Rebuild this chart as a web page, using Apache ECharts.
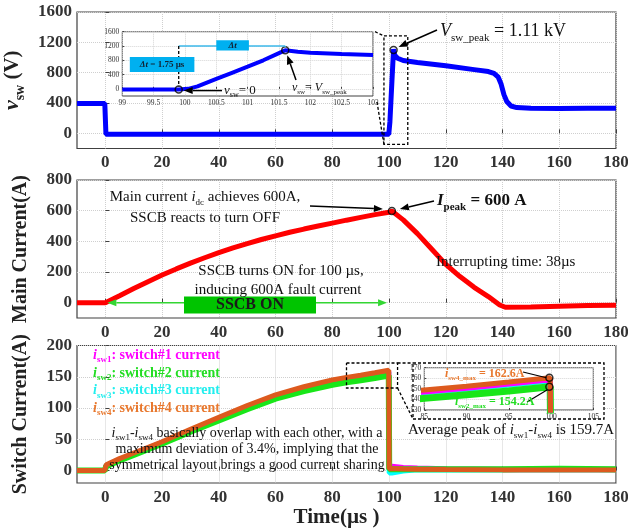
<!DOCTYPE html>
<html>
<head>
<meta charset="utf-8">
<script src="https://cdn.jsdelivr.net/npm/echarts@6/dist/echarts.min.js"></script>
<style>
html, body { margin: 0; padding: 0; background: #fff; }
#chart { width: 628px; height: 529px; }
</style>
</head>
<body>
<div id="chart"></div>
<script>
// tick labels
var xTicks = [0, 20, 40, 60, 80, 100, 120, 140, 160, 180];
var vswTicks = [0, 400, 800, 1200, 1600];
var mainTicks = [0, 200, 400, 600, 800];
var swTicks = [0, 50, 100, 150, 200];

// switch voltage v_sw (V)
var vswTime = [-10, -0.2, 0.2, 20, 50, 80, 99.9, 100.3, 100.6, 101, 101.3, 101.6, 102, 103, 105, 110, 120, 130, 135, 137, 138.5, 139.5, 140.5, 141.5, 143, 145, 150, 160, 170, 180];
var vswValue = [395, 395, -12, -12, -12, -12, -12, 150, 380, 680, 900, 1110, 1030, 990, 960, 935, 890, 840, 815, 790, 740, 650, 510, 420, 360, 340, 330, 328, 330, 332];

// zoomed v_sw around turn-off (inset)
var insTime = [99, 99.5, 99.9, 100.05, 100.2, 100.5, 100.75, 101, 101.25, 101.5, 101.6, 101.8, 102, 102.5, 103];
var insValue = [-20, -20, -20, 0, 70, 280, 450, 620, 800, 1000, 1080, 1040, 1010, 975, 950];

// main current i_dc (A)
var mainTime = [-10, 0, 5, 10, 15, 20, 25, 30, 35, 40, 45, 50, 55, 60, 65, 70, 75, 80, 85, 90, 95, 100, 101, 105, 110, 115, 120, 125, 130, 135, 139, 141, 150, 160, 170, 180];
var mainValue = [0, 0, 45, 92, 137, 180, 220, 258, 293, 326, 357, 385, 412, 436, 459, 480, 500, 519, 538, 556, 574, 590, 598, 540, 450, 350, 250, 170, 100, 40, -15, -30, -28, -23, -19, -17];

// switch currents (A)
var swTime = [-10, -0.2, 0.3, 5, 10, 20, 30, 40, 50, 60, 70, 80, 85, 90, 95, 99.9, 100.05, 101, 105, 110, 120, 140, 160, 180];
var isw1 = [0, 0, 8, 18, 27, 45, 64, 83, 102, 119, 132, 143, 147, 150.5, 154.5, 158.5, 7, 7, 5, 4, 3, 2, 2, 2];
var isw2 = [0, 0, 7, 16, 25, 43, 62, 80, 98, 115, 127, 137, 141, 144.5, 148, 152, 2, 2, 2, 2, 2, 2, 3, 2];
var isw3 = [0, 0, 8, 17, 26, 44, 63, 82, 101, 118, 131, 142, 146, 149.5, 153.5, 157.5, -4, -4, -1, 1, 1, 1, 1, 1];
var isw4 = [0, 0, 9, 19, 28, 46, 66, 85, 104, 121, 134, 145, 149, 152.5, 156.5, 160.5, 3, 3, 2.5, 2, 1.5, 1, 1, 1];

// marked points
var vswPeakMain = [[101.6, 1100]];
var vswInsMarks = [[99.9, -20], [101.6, 1080]];
var mainPeak = [[101, 598]];
var swMaxMarks = [[99.8, 160.5], [99.8, 152]];

var SERIF = 'Liberation Serif';
var zip = function (t, v) { return t.map(function (x, i) { return [x, v[i]]; }); };
var plain = function (v) { return String(v); };

var chart = echarts.init(document.getElementById('chart'));

function xAx(g, show) {
    return {
        type: 'value', gridIndex: g, min: -10, max: 180,
        axisLine: { show: false },
        axisTick: { inside: true, length: 4, customValues: xTicks, lineStyle: { color: '#404040' } },
        axisLabel: { show: show !== false, customValues: xTicks, formatter: plain, fontFamily: SERIF, fontWeight: 'bold', fontSize: 17, color: '#333', margin: 6 },
        splitLine: { show: true, lineStyle: { color: '#cfcfcf', type: 'dotted' } }
    };
}
function yAx(g, min, max, ticks, name, rich) {
    return {
        type: 'value', gridIndex: g, min: min, max: max,
        axisLine: { show: false },
        axisTick: { inside: true, length: 4, customValues: ticks, lineStyle: { color: '#404040' } },
        axisLabel: { customValues: ticks, formatter: plain, fontFamily: SERIF, fontWeight: 'bold', fontSize: 17, color: '#333', margin: 5 },
        splitLine: { show: true, lineStyle: { color: '#cfcfcf', type: 'dotted' } },
        name: name, nameLocation: 'middle', nameRotate: 90, nameGap: 46,
        nameTextStyle: { fontFamily: SERIF, fontWeight: 'bold', fontSize: 20, color: '#222', rich: rich }
    };
}
function insAx(g, type, min, max, interval) {
    return {
        type: 'value', gridIndex: g, min: min, max: max, interval: interval, z: 6,
        axisLine: { show: false },
        axisTick: { inside: true, length: 2, lineStyle: { color: '#404040' } },
        axisLabel: { formatter: plain, fontFamily: SERIF, fontSize: 7.5, color: '#333', margin: 3 },
        splitLine: { show: true, lineStyle: { color: '#d5d5d5', type: 'dotted' } }
    };
}
var circleStyle = { color: 'rgba(0,0,0,0)', borderColor: '#000', borderWidth: 1.5 };

var xAxes = [xAx(0), xAx(1), xAx(2)];
xAxes[2].name = 'Time(µs )';
xAxes[2].nameLocation = 'middle';
xAxes[2].nameGap = 23;
xAxes[2].nameTextStyle = { fontFamily: SERIF, fontWeight: 'bold', fontSize: 21, color: '#222', padding: [0, 20, 0, 0] };
xAxes.push(insAx(3, 'x', 99, 103, 0.5));
xAxes.push(insAx(4, 'x', 85, 105, 5));

var vRich = {
    i: { fontFamily: SERIF, fontWeight: 'bold', fontStyle: 'italic', fontSize: 22, color: '#222' },
    s: { fontFamily: SERIF, fontWeight: 'bold', fontSize: 14, color: '#222', verticalAlign: 'bottom', lineHeight: 30 },
    n: { fontFamily: SERIF, fontWeight: 'bold', fontSize: 21, color: '#222' }
};
var yAxes = [
    yAx(0, -200, 1600, vswTicks, '{i|v}{s|sw}{n| (V)}', vRich),
    yAx(1, -100, 800, mainTicks, 'Main Current(A)'),
    yAx(2, -20, 200, swTicks, 'Switch Current(A)'),
    insAx(3, 'y', -200, 1600, 400),
    insAx(4, 'y', 130, 170, 10)
];
yAxes[3].axisLabel.customValues = vswTicks;
yAxes[3].axisTick.customValues = vswTicks;
delete yAxes[3].interval;

function line(name, xi, data, color, width, z) {
    return {
        name: name, type: 'line', xAxisIndex: xi, yAxisIndex: xi, data: data,
        showSymbol: false, symbol: 'none', z: z || 2, clip: true,
        lineStyle: { color: color, width: width }
    };
}
function marks(xi, data, z) {
    return { type: 'scatter', xAxisIndex: xi, yAxisIndex: xi, data: data, symbol: 'circle', symbolSize: 7, itemStyle: circleStyle, z: z || 10 };
}

var ORANGE = '#dd5a1e', GREEN = '#19e619', MAGENTA = '#ff00ff', CYAN = '#00ffff', BLUE = '#0000ff', RED = '#ff0000';

function grid(l, t, w, h, extra) {
    return Object.assign({ left: l, top: t, width: w, height: h, show: true, containLabel: false, outerBoundsMode: 'none',
        borderColor: '#404040', borderWidth: 1.2, backgroundColor: '#fff' }, extra || {});
}

var option = {
    animation: false,
    backgroundColor: '#fff',
    grid: [
        grid(77, 12, 539, 136.5),
        grid(77, 180, 539, 138),
        grid(77, 345.5, 539, 137.5),
        grid(122.3, 31.7, 250.7, 64.3, { borderWidth: 1, z: 5 }),
        grid(424.3, 367.7, 169, 42.3, { borderWidth: 1, z: 5 })
    ],
    xAxis: xAxes,
    yAxis: yAxes,
    series: [
        line('v_sw', 0, zip(vswTime, vswValue), BLUE, 5),
        marks(0, vswPeakMain),
        line('i_dc', 1, zip(mainTime, mainValue), RED, 5),
        marks(1, mainPeak),
        line('i_sw3', 2, zip(swTime, isw3), CYAN, 5),
        line('i_sw1', 2, zip(swTime, isw1), MAGENTA, 5),
        line('i_sw2', 2, zip(swTime, isw2), GREEN, 6),
        line('i_sw4', 2, zip(swTime, isw4), ORANGE, 5),
        line('v_sw zoom', 3, zip(insTime, insValue), BLUE, 4, 7),
        marks(3, vswInsMarks, 12),
        line('i_sw3 zoom', 4, zip(swTime, isw3), CYAN, 5, 7),
        line('i_sw2 zoom', 4, zip(swTime, isw2), GREEN, 7, 7),
        line('i_sw1 zoom', 4, zip(swTime, isw1), MAGENTA, 5, 7),
        line('i_sw4 zoom', 4, zip(swTime, isw4), ORANGE, 5, 7),
        marks(4, swMaxMarks, 12)
    ]
};
chart.setOption(option);

// ---- annotations ----
function px(g, p) { return chart.convertToPixel({ gridIndex: g }, p); }
function arrow(a, b, color, w) {
    var ang = Math.atan2(b[1] - a[1], b[0] - a[0]);
    var L = 9, W = 3.5;
    var bx = b[0] - L * Math.cos(ang), by = b[1] - L * Math.sin(ang);
    return [
        { type: 'line', z: 50, shape: { x1: a[0], y1: a[1], x2: bx, y2: by }, style: { stroke: color, lineWidth: w || 1.5 } },
        { type: 'polygon', z: 50, shape: { points: [b, [bx + W * Math.sin(ang), by - W * Math.cos(ang)], [bx - W * Math.sin(ang), by + W * Math.cos(ang)]] }, style: { fill: color } }
    ];
}
function txt(x, y, t, st) {
    return { type: 'text', x: x, y: y, z: 60, style: Object.assign({ text: t, fontFamily: SERIF, fontSize: 15, fill: '#111', align: 'left', verticalAlign: 'middle' }, st || {}) };
}
function dashed(points, z) {
    return { type: 'polyline', z: z || 40, shape: { points: points }, style: { stroke: '#000', lineWidth: 1.3, lineDash: [3, 2], fill: null } };
}
function subRich(size, color, bold) {
    return {
        i: { fontFamily: SERIF, fontStyle: 'italic', fontWeight: bold ? 'bold' : 'normal', fontSize: size, fill: color },
        s: { fontFamily: SERIF, fontWeight: bold ? 'bold' : 'normal', fontSize: Math.round(size * 0.62), fill: color, verticalAlign: 'bottom', lineHeight: size * 1.35 },
        n: { fontFamily: SERIF, fontWeight: bold ? 'bold' : 'normal', fontSize: size, fill: color }
    };
}

var g = [];

// panel 1: zoom box and connectors
var r0 = px(0, [98.2, 1285]), r1 = px(0, [106.6, -145]);
g.push(dashed([[r0[0], r0[1]], [r1[0], r0[1]], [r1[0], r1[1]], [r0[0], r1[1]], [r0[0], r0[1]]]));
var iTR = px(3, [103, 1600]), iBR = px(3, [103, -200]);
g.push(dashed([[iTR[0] + 2, iTR[1]], [r0[0], r0[1]]]));
g.push(dashed([[iBR[0] + 4, iBR[1] + 6], [r0[0], r1[1]]]));

// V_sw_peak label
var pk = px(0, vswPeakMain[0]);
g.push(txt(440, 31, '{i|V}{s|sw_peak}{n| = 1.11 kV}', { rich: subRich(18, '#111', false) }));
g = g.concat(arrow([437, 30], [pk[0] + 5, pk[1] - 3], '#000', 1.5));

// inset 1 annotations
var a0 = px(3, [99.9, 1200]), a1 = px(3, [101.6, 1200]), m0 = px(3, vswInsMarks[0]), m1 = px(3, vswInsMarks[1]);
g.push({ type: 'line', z: 45, shape: { x1: a0[0], y1: a0[1], x2: a1[0], y2: a1[1] }, style: { stroke: '#3cb8ea', lineWidth: 1.5 } });
g.push({ type: 'line', z: 45, shape: { x1: a1[0], y1: a1[1], x2: a1[0], y2: m1[1] - 3 }, style: { stroke: '#3cb8ea', lineWidth: 1 } });
g.push(dashed([[a0[0], a0[1]], [a0[0], m0[1] - 3]], 45));
var b0 = px(3, [100.5, 1360]), b1 = px(3, [101.02, 1075]);
g.push({ type: 'rect', z: 46, shape: { x: b0[0], y: b0[1], width: b1[0] - b0[0], height: b1[1] - b0[1] }, style: { fill: '#00b0f0' } });
g.push(txt((b0[0] + b1[0]) / 2, (b0[1] + b1[1]) / 2, '{i|Δt}', { align: 'center', rich: { i: { fontFamily: SERIF, fontStyle: 'italic', fontWeight: 'bold', fontSize: 9, fill: '#123' } } }));
var c0 = px(3, [99.12, 890]), c1 = px(3, [100.15, 470]);
g.push({ type: 'rect', z: 46, shape: { x: c0[0], y: c0[1], width: c1[0] - c0[0], height: c1[1] - c0[1] }, style: { fill: '#00b0f0' } });
g.push(txt((c0[0] + c1[0]) / 2, (c0[1] + c1[1]) / 2, '{i|Δt}{n| = 1.75 µs}', { align: 'center', rich: { i: { fontFamily: SERIF, fontStyle: 'italic', fontWeight: 'bold', fontSize: 9, fill: '#123' }, n: { fontFamily: SERIF, fontWeight: 'bold', fontSize: 9, fill: '#123' } } }));
g = g.concat(arrow([222, m0[1] + 1], [m0[0] + 5, m0[1] + 1], '#000', 1.5));
g.push(txt(224, m0[1] + 1, '{i|v}{s|sw}{n|= 0}', { rich: subRich(13, '#111', false) }));
g = g.concat(arrow([296, 80], [m1[0] + 2, m1[1] + 5], '#000', 1.5));
g.push(txt(292, 88, '{i|v}{s|sw}{n|= }{i|V}{s|sw_peak}', { rich: subRich(12, '#111', false) }));

// panel 2 annotations
var mp = px(1, mainPeak[0]);
g.push(txt(205, 197, '{n|Main current }{i|i}{s|dc}{n| achieves 600A,}', { align: 'center', rich: subRich(15, '#111', false) }));
g.push(txt(205, 218, 'SSCB reacts to turn OFF', { align: 'center' }));
g = g.concat(arrow([310, 206], [mp[0] - 9, mp[1] - 2], '#000', 1.5));
g.push(txt(437, 201, '{i|I}{s|peak}{n| = 600 A}', { rich: subRich(17, '#111', true) }));
g = g.concat(arrow([434, 201], [mp[0] + 8, mp[1] - 2], '#000', 1.5));
g.push(txt(436, 262, 'Interrupting time: 38µs'));
g.push(txt(281, 271, 'SSCB turns ON for 100 µs,', { align: 'center' }));
g.push(txt(278, 290, 'inducing 600A fault current', { align: 'center' }));
var s0 = px(1, [0, 0]), s1 = px(1, [100, 0]);
g = g.concat(arrow([(s0[0] + s1[0]) / 2, s0[1]], [s0[0] + 2, s0[1]], '#33d633', 1.5));
g = g.concat(arrow([(s0[0] + s1[0]) / 2, s0[1]], [s1[0] - 2, s1[1]], '#33d633', 1.5));
g.push({ type: 'rect', z: 55, shape: { x: 184, y: 296.5, width: 132, height: 17 }, style: { fill: '#00c400' } });
g.push(txt(250, 305, 'SSCB ON', { align: 'center', fontWeight: 'bold', fontSize: 16, fill: '#1a1a1a' }));

// panel 3 legend texts
var legendText = [
    ['1', 'switch#1 current', MAGENTA, 355],
    ['2', 'switch#2 current', '#22dd22', 373],
    ['3', 'switch#3 current', '#22eeee', 390.5],
    ['4', 'switch#4 current', '#e8782e', 408]
];
legendText.forEach(function (l) {
    g.push(txt(93, l[3], '{i|i}{s|sw' + l[0] + '}{n|: ' + l[1] + '}', { rich: subRich(14, l[2], true) }));
});
g.push(txt(247, 433, '{i|i}{s|sw1}{n|-}{i|i}{s|sw4}{n| basically overlap with each other, with a}', { align: 'center', rich: subRich(14, '#111', false) }));
g.push(txt(247, 449, 'maximum deviation of 3.4%, implying that the', { align: 'center', fontSize: 14 }));
g.push(txt(247, 465, 'symmetrical layout brings a good current sharing', { align: 'center', fontSize: 14 }));

// panel 3 zoom box, outer frame and connectors
var q0 = px(2, [85, 172]), q1 = px(2, [103, 132]);
g.push(dashed([[q0[0], q0[1]], [q1[0], q0[1]], [q1[0], q1[1]], [q0[0], q1[1]], [q0[0], q0[1]]]));
var o0 = [413, 363], o1 = [604, 419];
g.push({ type: 'rect', z: 3, shape: { x: o0[0], y: o0[1], width: o1[0] - o0[0], height: o1[1] - o0[1] }, style: { fill: '#fff', stroke: '#000', lineWidth: 1.3, lineDash: [3, 2] } });
g.push(dashed([[q1[0], q0[1]], [o0[0], o0[1]]]));
g.push(dashed([[q1[0], q1[1]], [o0[0], o1[1]]]));
var w4 = px(4, swMaxMarks[0]), w2 = px(4, swMaxMarks[1]);
g.push(txt(445, 374, '{i|i}{s|sw4_max}{n| = 162.6A}', { rich: subRich(12, '#e8782e', true) }));
g.push({ type: 'line', z: 50, shape: { x1: 523, y1: 372, x2: w4[0] - 3, y2: w4[1] }, style: { stroke: '#000', lineWidth: 1.2 } });
g.push(txt(455, 402, '{i|i}{s|sw2_max}{n| = 154.2A}', { rich: subRich(12, '#22dd22', true) }));
g.push({ type: 'line', z: 50, shape: { x1: 527, y1: 402, x2: w2[0] - 2, y2: w2[1] + 3 }, style: { stroke: '#000', lineWidth: 1.2 } });
g.push(txt(511, 430, '{n|Average peak of }{i|i}{s|sw1}{n|-}{i|i}{s|sw4}{n| is 159.7A}', { align: 'center', rich: subRich(15, '#111', false) }));

chart.setOption({ graphic: { elements: g } });
</script>
</body>
</html>
